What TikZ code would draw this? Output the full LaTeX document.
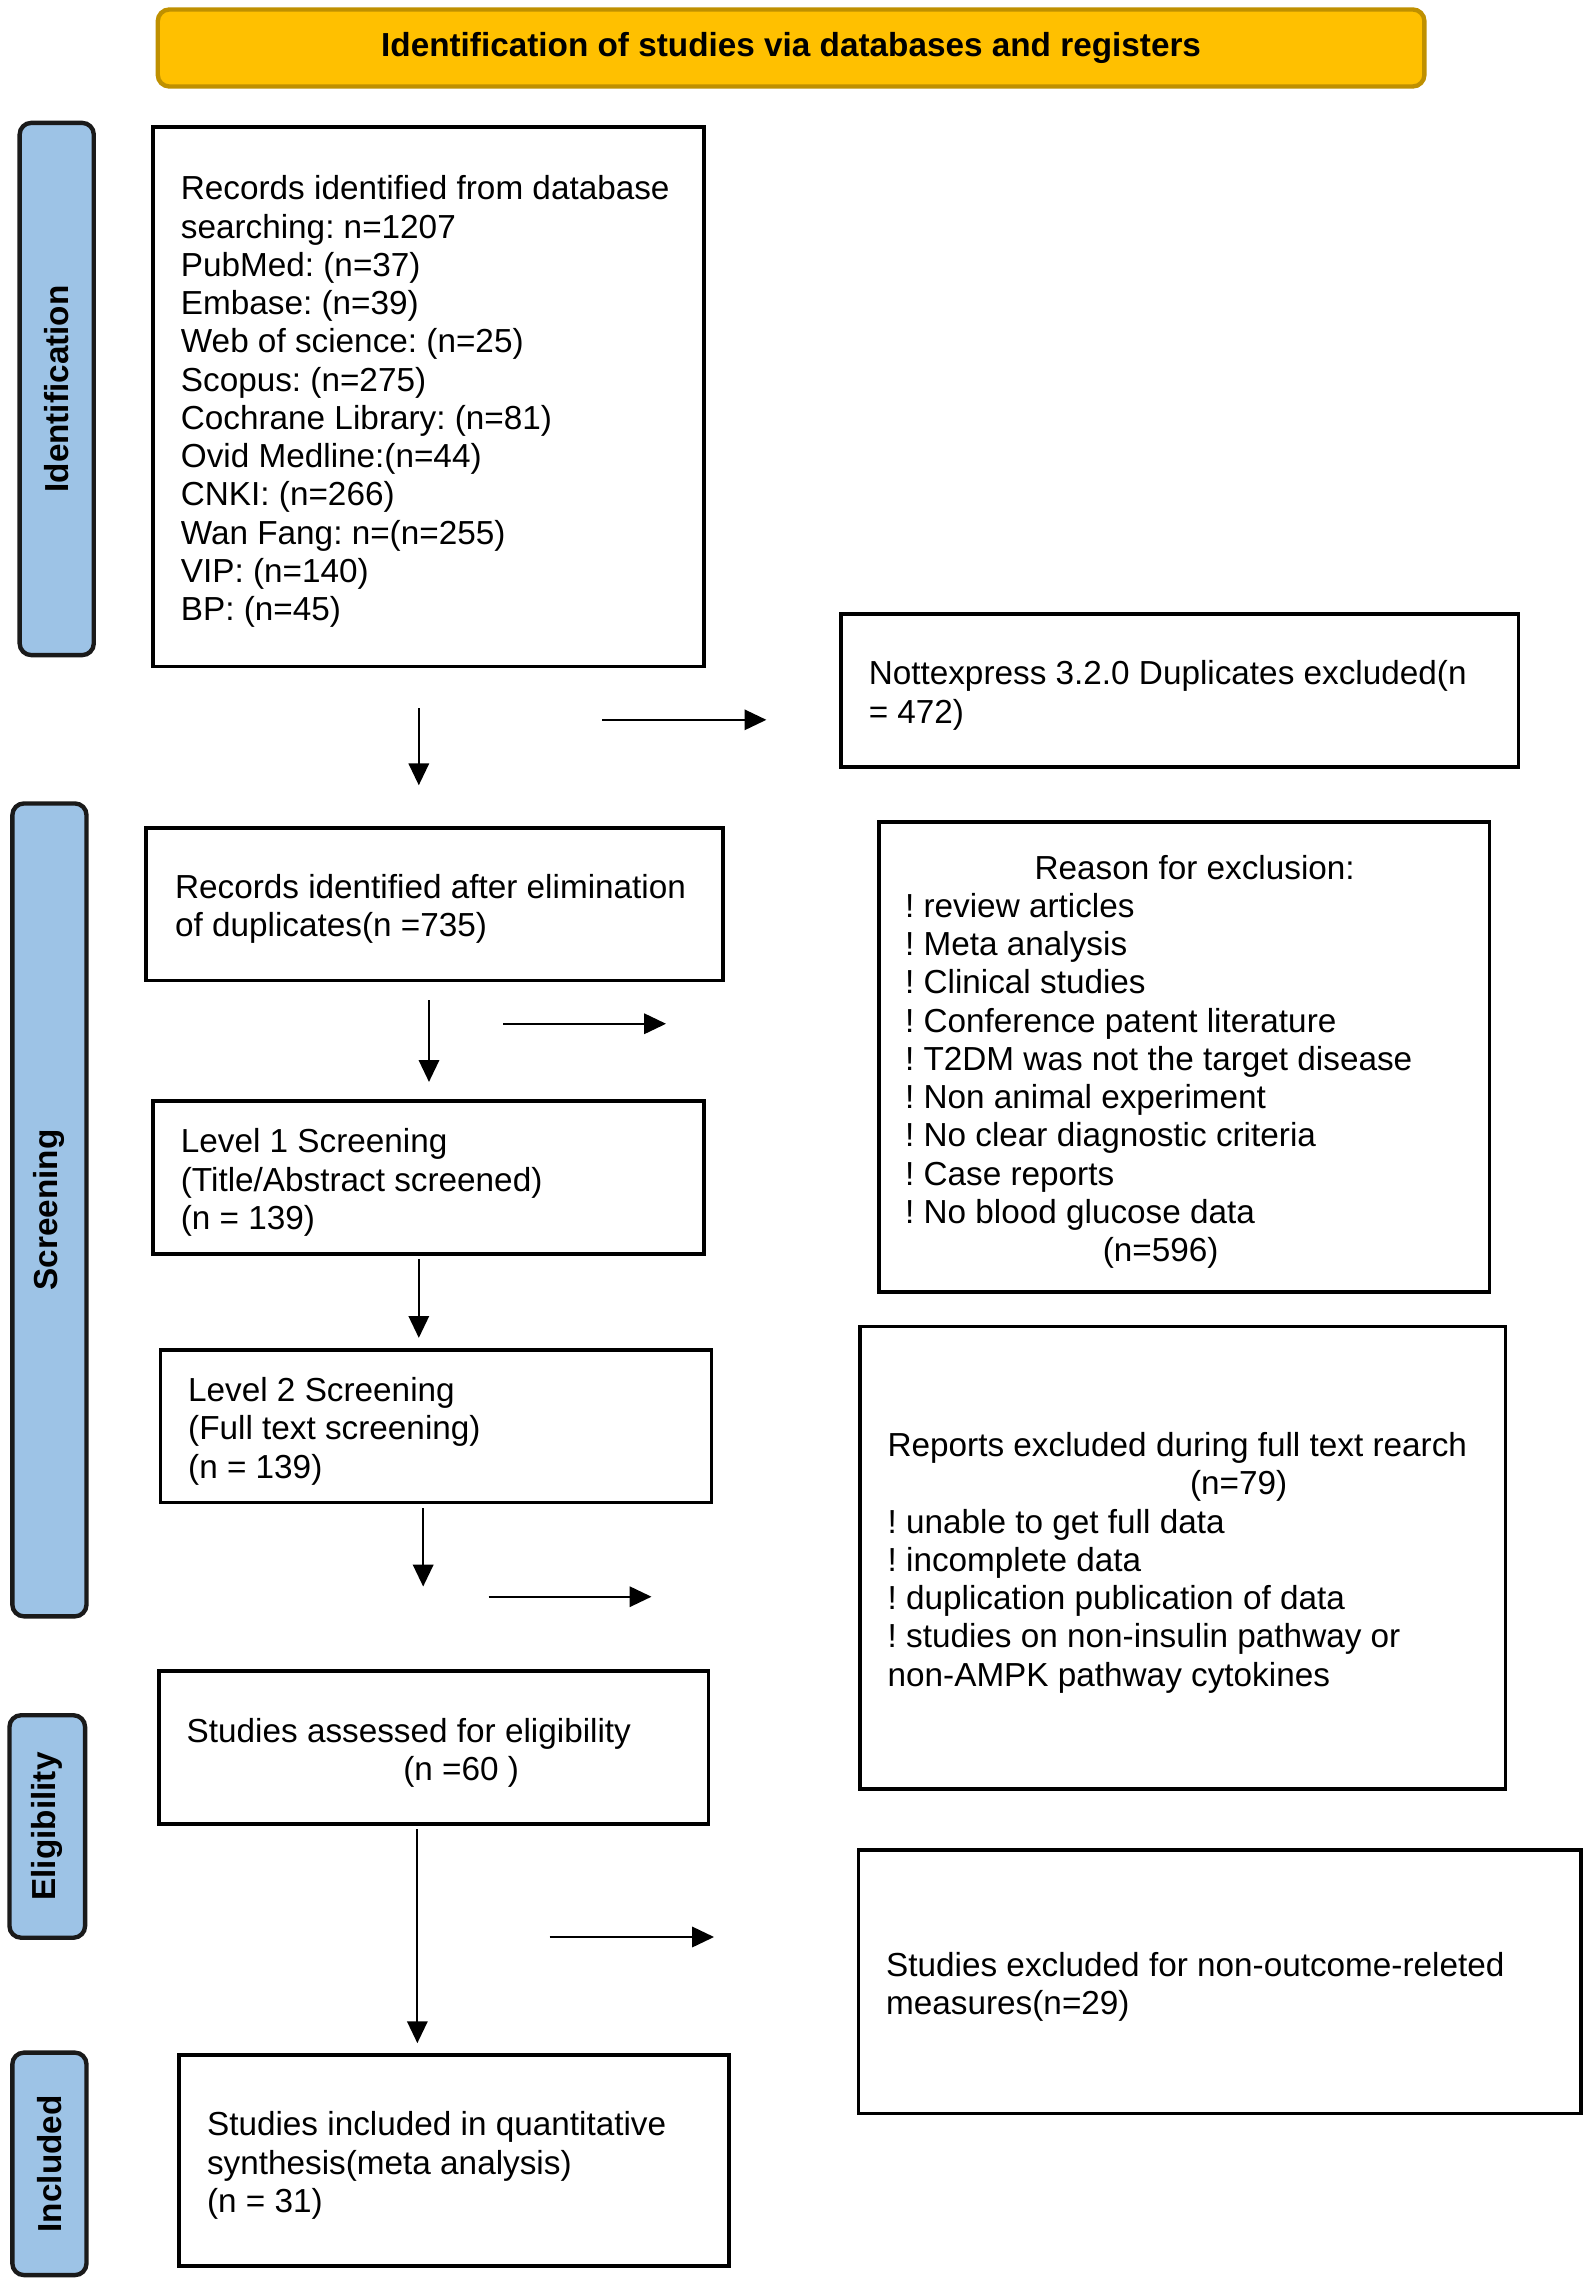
\documentclass[tikz,border=0pt]{standalone}
\usepackage{fontspec}
\setmainfont{Liberation Sans}
\usetikzlibrary{arrows.meta}
\frenchspacing
\definecolor{bannerfill}{HTML}{FFC000}
\definecolor{bannerdraw}{HTML}{BF9000}
\definecolor{sidefill}{HTML}{9DC3E6}
\definecolor{sidedraw}{HTML}{1A1A1A}
\tikzset{
  box/.style={draw=black, line width=1.25pt, fill=white, anchor=north west, inner sep=0pt},
  txt/.style={anchor=west, align=left, inner sep=0pt, yshift=-2.5pt, font=\fontsize{11.45}{13.15}\selectfont,
              execute at begin node=\strut, execute at end node=\strut},
  side/.style={draw=sidedraw, fill=sidefill, line width=1.5pt, rounded corners=4pt,
               anchor=north west, inner sep=0pt},
  sidetxt/.style={rotate=90, inner sep=0pt, font=\fontsize{11.45}{13.15}\selectfont\bfseries},
  arr/.style={line width=0.7pt, -{Triangle[length=7.5pt,width=7pt]}}
}
\begin{document}
\begin{tikzpicture}[x=0.5pt,y=-0.5pt]
\useasboundingbox (0,0) rectangle (1096,1572);
% banner
\node[draw=bannerdraw, fill=bannerfill, line width=1.5pt, rounded corners=4pt, anchor=north west,
      minimum width=435.5pt, minimum height=26.5pt, inner sep=0pt,
      font=\fontsize{11.45}{13.15}\selectfont\bfseries] (banner) at (107,5)
      {Identification of studies via databases and registers};
% side labels
\node[side, minimum width=25.5pt, minimum height=183pt] (sid) at (12,83) {};
\node[sidetxt] (sidt) at (sid.center) {Identification};
\node[side, minimum width=25.5pt, minimum height=279.5pt] (sscr) at (7,551) {};
\node[sidetxt] (sscrt) at (sscr.center) {Screening};
\node[side, minimum width=26pt, minimum height=76.5pt] (selig) at (5,1178) {};
\node[sidetxt] (seligt) at (selig.center) {Eligibility};
\node[side, minimum width=25.5pt, minimum height=76.5pt] (sincl) at (7,1410) {};
\node[sidetxt] (sinclt) at (sincl.center) {Included};
% boxes
\node[box, minimum width=189.5pt, minimum height=185.5pt] (rec) at (104,86) {};
\node[txt] (rect) at ([xshift=10pt]rec.west) {Records identified from database\\searching: n=1207\\PubMed: (n=37)\\Embase: (n=39)\\Web of science: (n=25)\\Scopus: (n=275)\\Cochrane Library: (n=81)\\Ovid Medline:(n=44)\\CNKI: (n=266)\\Wan Fang: n=(n=255)\\VIP: (n=140)\\BP: (n=45)};
\node[box, minimum width=233pt, minimum height=52.5pt] (dup) at (577,421) {};
\node[txt] (dupt) at ([xshift=10pt]dup.west) {Nottexpress 3.2.0 Duplicates excluded(n\\= 472)};
\node[box, minimum width=198.5pt, minimum height=52.5pt] (elim) at (99,568) {};
\node[txt] (elimt) at ([xshift=10.5pt]elim.west) {Records identified after elimination\\of duplicates(n =735)};
\node[box, minimum width=210pt, minimum height=161.5pt] (reason) at (603,564) {};
\node[txt] (reasont) at ([xshift=9.5pt]reason.west) {\hspace*{44.5pt}Reason for exclusion:\\! review articles\\! Meta analysis\\! Clinical studies\\! Conference patent literature\\! T2DM was not the target disease\\! Non animal experiment\\! No clear diagnostic criteria\\! Case reports\\! No blood glucose data\\\hspace*{68pt}(n=596)};
\node[box, minimum width=189.5pt, minimum height=52.5pt] (lvl1) at (104,756) {};
\node[txt] (lvl1t) at ([xshift=10pt]lvl1.west) {Level 1 Screening\\(Title/Abstract screened)\\(n = 139)};
\node[box, minimum width=189.5pt, minimum height=52.5pt] (lvl2) at (109,927) {};
\node[txt] (lvl2t) at ([xshift=10pt]lvl2.west) {Level 2 Screening\\(Full text screening)\\(n = 139)};
\node[box, minimum width=222pt, minimum height=159pt] (rep) at (590,911) {};
\node[txt] (rept) at ([xshift=10pt]rep.west) {Reports excluded during full text rearch\\\hspace*{104pt}(n=79)\\! unable to get full data\\! incomplete data\\! duplication publication of data\\! studies on non-insulin pathway or\\non-AMPK pathway cytokines};
\node[box, minimum width=189pt, minimum height=52.5pt] (elig) at (108,1148) {};
\node[txt] (eligt) at ([xshift=10pt]elig.west) {Studies assessed for eligibility\\\hspace*{74.5pt}(n =60 )};
\node[box, minimum width=248.5pt, minimum height=90.5pt] (excl) at (589,1271) {};
\node[txt] (exclt) at ([xshift=10pt]excl.west) {Studies excluded for non-outcome-releted\\measures(n=29)};
\node[box, minimum width=189pt, minimum height=72.5pt] (incl) at (122,1412) {};
\node[txt] (inclt) at ([xshift=10pt]incl.west) {Studies included in quantitative\\synthesis(meta analysis)\\(n = 31)};
% arrow end points
\coordinate (v1s) at (288,487); \coordinate (v1e) at (288,540);
\coordinate (h1s) at (414,495); \coordinate (h1e) at (527,495);
\coordinate (v2s) at (295,688); \coordinate (v2e) at (295,744);
\coordinate (h2s) at (346,704); \coordinate (h2e) at (458,704);
\coordinate (v3s) at (288,866); \coordinate (v3e) at (288,920);
\coordinate (v4s) at (291,1037); \coordinate (v4e) at (291,1091);
\coordinate (h3s) at (336,1098); \coordinate (h3e) at (448,1098);
\coordinate (v5s) at (287,1258); \coordinate (v5e) at (287,1405);
\coordinate (h4s) at (378,1332); \coordinate (h4e) at (491,1332);
\draw[arr] (v1s) -- (v1e);
\draw[arr] (h1s) -- (h1e);
\draw[arr] (v2s) -- (v2e);
\draw[arr] (h2s) -- (h2e);
\draw[arr] (v3s) -- (v3e);
\draw[arr] (v4s) -- (v4e);
\draw[arr] (h3s) -- (h3e);
\draw[arr] (v5s) -- (v5e);
\draw[arr] (h4s) -- (h4e);
\end{tikzpicture}
\end{document}
